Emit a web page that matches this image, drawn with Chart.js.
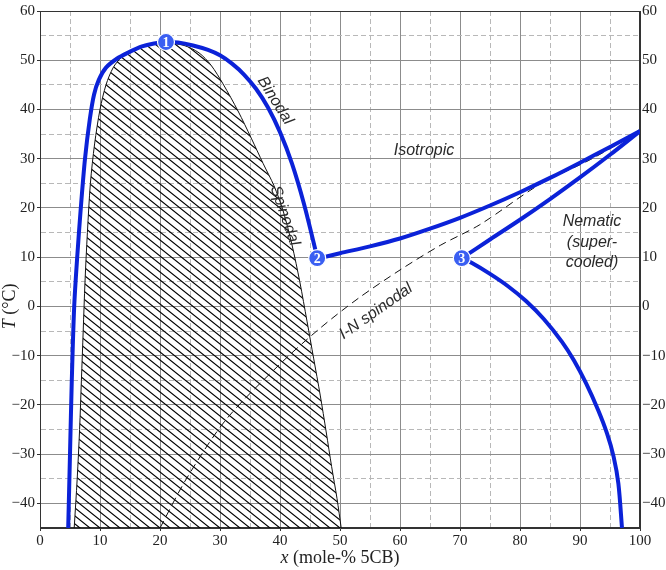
<!DOCTYPE html>
<html>
<head>
<meta charset="utf-8">
<script src="https://cdn.jsdelivr.net/npm/chart.js@4.4.1/dist/chart.umd.min.js"></script>
<style>
  html, body { margin: 0; padding: 0; background: #fff; }
</style>
</head>
<body>
<canvas id="phaseChart" width="666" height="570"></canvas>
<script>
// binodal, left part (bottom left -> critical point 1 -> point 2)
const binodalX = [4.7, 5.0, 5.3, 5.7, 6.2, 6.8, 7.5, 8.3, 9.0, 9.8, 11.0, 12.8, 14.6, 17.0, 19.0, 21.0, 23.0, 25.5, 28.0, 30.0, 32.0, 34.0, 36.0, 38.0, 40.0, 42.0, 44.0, 46.2];
const binodalY = [-45, -30, -15, 0, 10, 20, 30, 38, 43, 46, 48.5, 50.3, 51.5, 52.8, 53.4, 53.7, 53.6, 53.0, 52.1, 51.0, 49.3, 47.1, 44.2, 40.4, 35.4, 29.0, 20.8, 10];

// isotropic / nematic boundary from point 2 to pure 5CB
const isoX = [46.2, 50, 55, 60, 65, 70, 75, 80, 85, 90, 95, 100];
const isoY = [9.7, 10.8, 12.2, 13.8, 15.8, 18.0, 20.5, 23.2, 26.1, 29.2, 32.4, 35.6];

// nematic branch from point 3 up to pure 5CB
const nemUpX = [70.3, 75, 80, 85, 90, 95, 100];
const nemUpY = [9.8, 13.6, 17.6, 21.8, 26.2, 30.8, 35.6];

// nematic branch from point 3 down
const nemDownX = [70.3, 72, 75, 78, 81, 84, 87, 89, 91, 93, 94.5, 95.6, 96.4, 97];
const nemDownY = [9.8, 8.8, 6.6, 4.1, 1.1, -2.6, -7.2, -11, -15.6, -21, -25.8, -30.5, -36, -45];

// spinodal (hatched dome)
const spinX = [5.7, 6.2, 6.6, 6.9, 7.2, 7.5, 7.9, 8.4, 9.1, 10.0, 11.0, 12.2, 13.6, 15.5, 18.0, 21.0, 24.0, 26.5, 28.5, 30.5, 33.0, 35.2, 37.2, 39.0, 40.5, 42.0, 43.3, 44.5, 45.6, 46.7, 47.7, 48.6, 49.5, 50.2];
const spinY = [-45, -35, -25, -15, -5, 5, 15, 25, 33, 40, 45, 48.5, 50.6, 52.0, 53.1, 53.5, 53.0, 51.5, 49.0, 45.2, 39.7, 34.2, 29.0, 24.5, 19.5, 12.5, 5, -3, -10.5, -18, -25.5, -32.5, -39, -45];

// I-N spinodal (dashed)
const inX = [20, 24.4, 31, 40, 46.7, 53, 60, 66.7, 73.3, 83.3, 91.7, 100];
const inY = [-45, -35, -23, -11.7, -4.4, 1.6, 7.4, 12.4, 16.6, 24.8, 29.8, 35.6];

// numbered points
const markerX = [21, 46.2, 70.3];
const markerY = [53.7, 9.8, 9.8];
const markerText = ["1", "2", "3"];

// region labels
const regionText = ["Binodal", "Spinodal", "Isotropic", "I-N spinodal", "Nematic", "(super-", "cooled)"];
const regionX = [39.2, 40.8, 64, 56, 92, 92, 92];
const regionY = [41.8, 18.4, 31.7, -1, 17.2, 13, 9];
const regionAngle = [58, 71, 0, -35, 0, 0, 0];

const toPts = (xs, ys) => xs.map((v, i) => ({ x: v, y: ys[i] }));

function hatchPattern() {
    const c = document.createElement("canvas");
    c.width = 10; c.height = 8;
    const g = c.getContext("2d");
    g.strokeStyle = "#000";
    g.lineWidth = 1.15;
    g.beginPath();
    for (const k of [-1, 0, 1]) {
        g.moveTo(-10 + k * 10, -8);
        g.lineTo(20 + k * 10, 16);
    }
    g.stroke();
    return g.createPattern(c, "repeat");
}

const BLUE = "#0b22d8";
const tickFmt = v => v % 10 === 0 ? (v < 0 ? "\u2212" + Math.abs(v) : String(v)) : "";
const gridColor = ctx => ctx.tick && ctx.tick.value % 10 === 0 ? "#8c8c8c" : "#b8b8b8";
const gridDash = ctx => ctx.tick && ctx.tick.value % 10 !== 0 ? [5, 3] : [];
const tickColor = ctx => ctx.tick && ctx.tick.value % 10 === 0 ? "#333" : "rgba(0,0,0,0)";
const tickFont = { family: "'Liberation Serif', serif", size: 15 };

const labelsPlugin = {
    id: "phaseLabels",
    beforeDatasetsDraw(chart) {
        const { ctx, chartArea: a } = chart;
        ctx.save();
        ctx.strokeStyle = "#333";
        ctx.lineWidth = 1;
        ctx.strokeRect(a.left + 0.5, a.top + 0.5, a.right - a.left - 1, a.bottom - a.top - 1);
        ctx.restore();
    },
    afterDatasetsDraw(chart) {
        const { ctx, scales: { x, y } } = chart;
        ctx.save();
        ctx.textAlign = "center";
        ctx.textBaseline = "middle";
        ctx.fillStyle = "#fff";
        ctx.font = "bold 14px 'Liberation Serif'";
        markerText.forEach((t, i) => {
            ctx.fillText(t, x.getPixelForValue(markerX[i]), y.getPixelForValue(markerY[i]) + 1);
        });
        ctx.fillStyle = "#2a2a2a";
        ctx.font = "italic 16px 'Liberation Sans'";
        regionText.forEach((t, i) => {
            ctx.save();
            ctx.translate(x.getPixelForValue(regionX[i]), y.getPixelForValue(regionY[i]));
            ctx.rotate(regionAngle[i] * Math.PI / 180);
            ctx.fillText(t, 0, 0);
            ctx.restore();
        });
        ctx.restore();
    },
    afterDraw(chart) {
        const { ctx, chartArea: a, scales: { y } } = chart;
        ctx.save();
        ctx.fillStyle = "#222";
        ctx.textBaseline = "middle";
        ctx.textAlign = "left";
        // x title
        const it = "italic 18px 'Liberation Serif'", rm = "18px 'Liberation Serif'";
        ctx.font = it; const w1 = ctx.measureText("x").width;
        ctx.font = rm; const w2 = ctx.measureText(" (mole-% 5CB)").width;
        let sx = (a.left + a.right) / 2 - (w1 + w2) / 2;
        ctx.font = it; ctx.fillText("x", sx, 558);
        ctx.font = rm; ctx.fillText(" (mole-% 5CB)", sx + w1, 558);
        // y title
        ctx.translate(10, y.getPixelForValue(0));
        ctx.rotate(-Math.PI / 2);
        ctx.font = it; const v1 = ctx.measureText("T").width;
        ctx.font = rm; const v2 = ctx.measureText(" (°C)").width;
        sx = -(v1 + v2) / 2;
        ctx.font = it; ctx.fillText("T", sx, 0);
        ctx.font = rm; ctx.fillText(" (°C)", sx + v1, 0);
        ctx.restore();
    }
};

const ctx = document.getElementById("phaseChart").getContext("2d");
new Chart(ctx, {
    type: "line",
    data: {
        datasets: [
            { label: "points", data: toPts(markerX, markerY), showLine: false, pointRadius: 8.5,
              pointBackgroundColor: "#3a5ff2", pointBorderColor: "#fff", pointBorderWidth: 1.2, order: 0 },
            { label: "binodal", data: toPts(binodalX, binodalY), borderColor: BLUE, borderWidth: 4, pointRadius: 0, tension: 0.3, order: 1 },
            { label: "iso", data: toPts(isoX, isoY), borderColor: BLUE, borderWidth: 4, pointRadius: 0, tension: 0.3, order: 1 },
            { label: "nemUp", data: toPts(nemUpX, nemUpY), borderColor: BLUE, borderWidth: 4, pointRadius: 0, tension: 0.3, order: 1 },
            { label: "nemDown", data: toPts(nemDownX, nemDownY), borderColor: BLUE, borderWidth: 4, pointRadius: 0, tension: 0.3, order: 1 },
            { label: "I-N spinodal", data: toPts(inX, inY), borderColor: "#111", borderWidth: 1, borderDash: [8, 5], pointRadius: 0, tension: 0.3, order: 2 },
            { label: "spinodal", data: toPts(spinX, spinY), borderColor: "#111", borderWidth: 1, pointRadius: 0, tension: 0.3,
              fill: "start", backgroundColor: hatchPattern(), order: 3 }
        ]
    },
    options: {
        responsive: false,
        animation: false,
        layout: { padding: { top: 5 } },
        plugins: { legend: { display: false }, tooltip: { enabled: false } },
        scales: {
            x: {
                type: "linear", min: 0, max: 100,
                ticks: { stepSize: 5, autoSkip: false, maxRotation: 0, callback: tickFmt, font: tickFont, color: "#222", padding: 1 },
                grid: { color: gridColor, tickLength: 3, tickColor: tickColor, tickBorderDash: [] },
                border: { color: "#333", dash: gridDash },
                afterFit: s => { s.height = 42; }
            },
            y: {
                type: "linear", min: -45, max: 60,
                ticks: { stepSize: 5, autoSkip: false, callback: tickFmt, font: tickFont, color: "#222", padding: 2 },
                grid: { color: gridColor, tickLength: 3, tickColor: tickColor, tickBorderDash: [] },
                border: { color: "#333", dash: gridDash },
                afterFit: s => { s.width = 40; }
            },
            y2: {
                type: "linear", position: "right", min: -45, max: 60,
                ticks: { stepSize: 5, autoSkip: false, callback: tickFmt, font: tickFont, color: "#222", padding: 2 },
                grid: { display: false, drawTicks: false },
                border: { display: true, color: "#333" },
                afterFit: s => { s.width = 26; }
            }
        }
    },
    plugins: [labelsPlugin]
});
</script>
</body>
</html>
